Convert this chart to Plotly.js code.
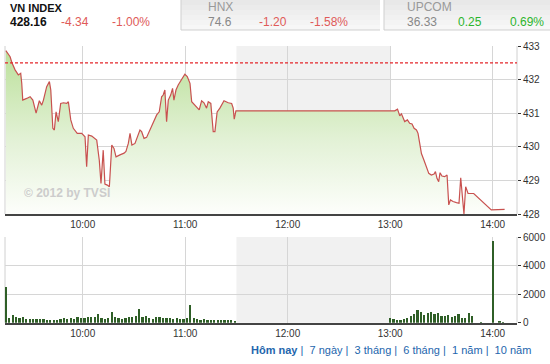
<!DOCTYPE html>
<html>
<head>
<meta charset="utf-8">
<script src="https://cdn.plot.ly/plotly-3.0.1.min.js"></script>
<style>html,body{margin:0;padding:0;background:#fff;}#chart{width:550px;height:364px;}</style>
</head>
<body>
<div id="chart"></div>
<script>
var DAY = '2012-06-01 ';

// Index line (time, value)
var lineTimes = ['09:15:00','09:17:30','09:18:30','09:20:24','09:22:18','09:23:42','09:24:18','09:24:54','09:27:12','09:29:12','09:30:48','09:32:42','09:34:36','09:36:00','09:37:00','09:38:54','09:40:30','09:41:18','09:42:30','09:43:24','09:44:24','09:45:42','09:47:06','09:48:42','09:50:36','09:51:36','09:53:00','09:54:30','09:56:48','09:59:24','10:01:21','10:02:18','10:03:18','10:05:18','10:08:12','10:09:42','10:10:42','10:12:00','10:13:00','10:14:24','10:15:36','10:17:00','10:18:18','10:19:30','10:21:48','10:24:12','10:25:18','10:26:42','10:27:42','10:28:48','10:30:36','10:31:54','10:33:30','10:34:30','10:35:54','10:37:24','10:39:24','10:41:18','10:43:18','10:44:48','10:46:12','10:47:06','10:48:06','10:49:06','10:50:06','10:51:30','10:52:36','10:53:24','10:54:36','10:55:54','10:57:54','10:59:48','11:01:12','11:02:48','11:03:48','11:05:42','11:08:12','11:09:36','11:11:00','11:12:30','11:13:30','11:15:00','11:16:24','11:17:24','11:18:42','11:20:18','11:22:42','11:25:12','11:27:12','11:28:06','11:28:42','11:29:42','13:00:00','13:02:42','13:04:18','13:05:36','13:06:36','13:07:30','13:08:30','13:10:06','13:11:24','13:12:48','13:14:00','13:15:24','13:16:18','13:17:18','13:18:18','13:19:48','13:21:12','13:22:36','13:24:06','13:25:42','13:26:30','13:27:24','13:28:24','13:29:12','13:30:18','13:31:54','13:33:18','13:34:18','13:35:18','13:36:48','13:38:48','13:40:18','13:41:18','13:42:18','13:43:12','13:44:12','13:45:36','13:48:54','13:59:12','14:07:00'];
var lineValues = [432.86,432.68,432.51,432.29,432.14,432.19,431.89,431.39,431.44,431.49,431.39,431.00,431.37,431.24,431.39,431.79,431.94,431.69,430.55,430.50,431.04,430.75,431.29,431.31,431.29,431.34,430.80,430.55,430.40,430.40,430.30,429.41,430.35,430.32,430.20,429.60,428.91,429.90,428.89,428.86,428.81,430.05,429.95,429.70,429.76,429.81,429.86,430.10,430.40,430.05,430.10,430.30,430.50,430.45,430.25,430.28,430.50,430.70,430.95,431.04,431.49,431.54,431.69,430.75,431.39,431.54,431.74,431.39,431.69,431.84,431.99,432.16,432.09,431.89,431.34,431.24,431.10,431.37,431.31,431.15,431.34,431.29,430.45,430.45,431.04,431.15,431.37,431.31,431.29,431.15,430.82,431.07,431.07,431.07,431.12,430.92,430.98,430.88,430.75,430.80,430.70,430.68,430.55,430.50,430.40,430.10,429.80,429.60,429.41,429.21,429.16,429.19,429.26,429.06,428.96,429.23,429.13,429.11,429.16,428.27,428.42,428.37,428.34,428.32,429.08,428.51,428.00,428.81,428.61,428.61,428.12,428.14];

// Volume bars
var volTimes = ['09:15','09:17','09:19','09:21','09:23','09:25','09:27','09:29','09:31','09:33','09:35','09:37','09:39','09:41','09:43','09:45','09:47','09:49','09:51','09:53','09:55','09:57','09:59','10:01','10:03','10:05','10:07','10:09','10:11','10:13','10:15','10:17','10:19','10:21','10:23','10:25','10:27','10:29','10:31','10:33','10:35','10:37','10:39','10:41','10:43','10:45','10:47','10:49','10:51','10:53','10:55','10:57','10:59','11:01','11:03','11:05','11:07','11:09','11:11','11:13','11:15','11:17','11:19','11:21','11:23','11:25','11:27','11:29','13:00','13:02','13:04','13:06','13:08','13:10','13:12','13:14','13:16','13:18','13:20','13:22','13:24','13:26','13:28','13:30','13:32','13:34','13:36','13:38','13:40','13:42','13:44','13:46','13:48','13:53','14:00','14:04','14:06'];
var volValues = [2500,300,560,420,300,380,260,240,250,240,250,230,200,180,190,220,250,300,280,330,260,380,350,310,400,420,380,600,320,280,350,720,380,300,250,320,380,400,450,950,400,500,300,280,420,380,330,360,300,280,320,260,230,300,1250,300,250,220,280,200,170,220,200,180,210,160,190,140,350,250,220,200,240,300,500,600,900,750,550,700,750,600,650,500,450,550,400,450,600,350,300,700,450,60,5700,90,70];

var referenceLevel = 432.50;
var priceTicks = [428,429,430,431,432,433];
var volTicks = [0,2000,4000,6000];
var hourTicks = ['10:00','11:00','12:00','13:00','14:00'];

var header = {
  vn: {name:'VN INDEX', value:'428.16', change:'-4.34', pct:'-1.00%'},
  hnx: {name:'HNX', value:'74.6', change:'-1.20', pct:'-1.58%'},
  upcom: {name:'UPCOM', value:'36.33', change:'0.25', pct:'0.69%'}
};
var periodLinks = ['Hôm nay','7 ngày','3 tháng','6 tháng','1 năm','10 năm'];

function d(t){ return DAY + t; }
var W = 550, H = 364;
function px(x){ return x / W; }
function py(y){ return 1 - y / H; }

var FONT = 'Liberation Sans, Arial, sans-serif';
var tickFont = {family: FONT, size: 10, color: '#333'};

var traces = [
  {
    type: 'scatter', mode: 'lines', x: lineTimes.map(d), y: lineValues,
    xaxis: 'x', yaxis: 'y',
    line: {color: '#c8514f', width: 1.2},
    fill: 'tozeroy',
    fillcolor: '#d6ecc4',
    fillgradient: {type: 'vertical', start: 428, stop: 433,
      colorscale: [[0, '#fdfefb'], [0.45, '#e2f1d5'], [1, '#b9df97']]},
    hoverinfo: 'skip'
  },
  {
    type: 'bar', x: volTimes.map(d), y: volValues,
    xaxis: 'x2', yaxis: 'y2',
    marker: {color: '#2f5f27', line: {width: 0}},
    width: 80000,
    hoverinfo: 'skip'
  }
];

var xRange = [d('09:14:30'), d('14:14:15')];
var xDomain = [px(5), px(517)];

var layout = {
  width: W, height: H,
  margin: {l: 0, r: 0, t: 0, b: 0},
  paper_bgcolor: '#fff', plot_bgcolor: '#fff',
  showlegend: false,
  font: {family: FONT},
  bargap: 0,
  xaxis: {
    type: 'date', range: xRange, domain: xDomain, anchor: 'y',
    tickvals: hourTicks.map(d), ticktext: hourTicks,
    showgrid: true, gridcolor: '#d6d6d6', gridwidth: 1,
    showline: true, linecolor: '#444', linewidth: 2,
    ticks: '', tickfont: tickFont, zeroline: false, fixedrange: true
  },
  yaxis: {
    range: [428, 433], domain: [py(214), py(46)], anchor: 'x', side: 'right',
    tickvals: priceTicks, ticktext: priceTicks.map(String),
    showgrid: true, gridcolor: '#d6d6d6', gridwidth: 1,
    ticks: 'outside', ticklen: 3, tickcolor: '#333',
    tickfont: tickFont, zeroline: false, showline: false, fixedrange: true
  },
  xaxis2: {
    type: 'date', range: xRange, domain: xDomain, anchor: 'y2',
    tickvals: hourTicks.map(d), ticktext: hourTicks,
    showgrid: true, gridcolor: '#d6d6d6', gridwidth: 1,
    showline: true, linecolor: '#444', linewidth: 2,
    ticks: '', tickfont: tickFont, zeroline: false, fixedrange: true
  },
  yaxis2: {
    range: [0, 6000], domain: [py(322.7), py(237)], anchor: 'x2', side: 'right',
    tickvals: volTicks, ticktext: volTicks.map(String),
    showgrid: true, gridcolor: '#d6d6d6', gridwidth: 1,
    ticks: 'outside', ticklen: 3, tickcolor: '#333',
    tickfont: tickFont, zeroline: false, showline: false, fixedrange: true
  },
  shapes: [],
  annotations: []
};

// lunch break shading
layout.shapes.push({type:'rect', xref:'x', yref:'y domain', x0:d('11:30'), x1:d('13:00'), y0:0, y1:1, fillcolor:'#f1f1f1', line:{width:0}, layer:'below'});
layout.shapes.push({type:'rect', xref:'x2', yref:'y2 domain', x0:d('11:30'), x1:d('13:00'), y0:0, y1:1, fillcolor:'#f1f1f1', line:{width:0}, layer:'below'});
// plot borders (left/right)
[['y domain'],['y2 domain']].forEach(function(r){
  var xr = r[0] === 'y domain' ? 'x domain' : 'x2 domain';
  layout.shapes.push({type:'line', xref:xr, yref:r[0], x0:0, x1:0, y0:0, y1:1, line:{color:'#d0d0d0', width:1}, layer:'below'});
  layout.shapes.push({type:'line', xref:xr, yref:r[0], x0:1, x1:1, y0:0, y1:1, line:{color:'#d0d0d0', width:1}, layer:'below'});
});
// reference line
layout.shapes.push({type:'line', xref:'x domain', yref:'y', x0:0, x1:1, y0:referenceLevel, y1:referenceLevel, line:{color:'#e3262b', width:1.2, dash:'3px,2px'}, layer:'above'});

// header tabs with soft gradient
function tab(x0, x1){
  var bands = ['#e8e8e8','#ebebeb','#eeeeee','#f1f1f1','#f4f4f4','#f7f7f7'];
  var h = 30 / bands.length;
  bands.forEach(function(c, i){
    layout.shapes.push({type:'rect', xref:'paper', yref:'paper', x0:px(x0), x1:px(x1), y0:py(i*h+h), y1:py(i*h), fillcolor:c, line:{width:0}, layer:'below'});
  });
  layout.shapes.push({type:'line', xref:'paper', yref:'paper', x0:px(x0), x1:px(x0), y0:py(0), y1:py(30), line:{color:'#cfcfcf', width:1}});
  layout.shapes.push({type:'line', xref:'paper', yref:'paper', x0:px(x0), x1:px(x1), y0:py(30), y1:py(30), line:{color:'#cfcfcf', width:1}});
}
tab(181, 380);
tab(384, 551);

function txt(s, x, y, size, color, bold){
  layout.annotations.push({xref:'paper', yref:'paper', x:px(x), y:py(y), xanchor:'left', yanchor:'middle',
    text: bold ? '<b>' + s + '</b>' : s, showarrow:false,
    font:{family:FONT, size:size, color:color}});
}
txt(header.vn.name, 8, 7.5, 11, '#111', true);
txt(header.vn.value, 8, 22, 12, '#111', true);
txt(header.vn.change, 59, 22, 12, '#e05a58', false);
txt(header.vn.pct, 110, 22, 12, '#e05a58', false);
txt(header.hnx.name, 206, 7, 12, '#999', false);
txt(header.hnx.value, 206, 21.5, 12, '#888', false);
txt(header.hnx.change, 257, 21.5, 12, '#e05a58', false);
txt(header.hnx.pct, 308, 21.5, 12, '#e05a58', false);
txt(header.upcom.name, 405, 7, 12, '#999', false);
txt(header.upcom.value, 405, 21.5, 12, '#888', false);
txt(header.upcom.change, 456, 21.5, 12, '#2db52d', false);
txt(header.upcom.pct, 508, 21.5, 12, '#2db52d', false);

// watermark
txt('© 2012 by TVSI', 22, 193, 12, '#cccccc', true);

// footer links
var footer = periodLinks.map(function(s, i){ return i === 0 ? '<b>' + s + '</b>' : s; }).join('&nbsp;|&nbsp;&nbsp;');
layout.annotations.push({xref:'paper', yref:'paper', x:px(533), y:py(350), xanchor:'right', yanchor:'middle',
  text: footer, showarrow:false, font:{family:FONT, size:11, color:'#2466ad'}});

Plotly.newPlot('chart', traces, layout, {staticPlot: true, displayModeBar: false});
</script>
</body>
</html>
